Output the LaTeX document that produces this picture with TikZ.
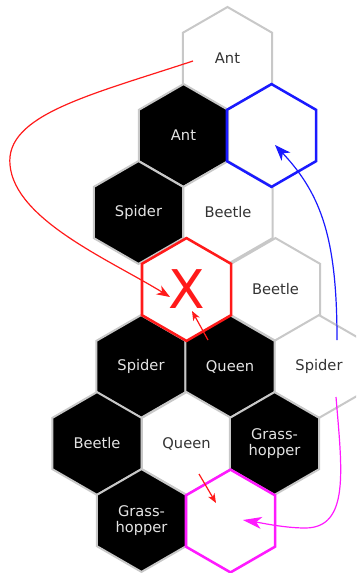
\documentclass[tikz,border=0pt]{standalone}
\usepackage{fontspec}
\setmainfont{DejaVu Sans}
\usetikzlibrary{shapes.geometric,arrows.meta}
\definecolor{hexgrey}{HTML}{C8C8C8}
\definecolor{darktext}{HTML}{333333}
\definecolor{lighttext}{HTML}{E4E4E4}
\definecolor{moveblue}{HTML}{1A1AFF}
\definecolor{movered}{HTML}{FF1A1A}
\definecolor{movemag}{HTML}{FF1AFF}
\begin{document}
\begin{tikzpicture}[x=0.75pt,y=-0.75pt,
  hexa/.style={regular polygon,regular polygon sides=6,regular polygon rotate=30,
    minimum size=77.1pt,inner sep=0pt,draw=hexgrey,line width=1.5pt,fill=white,
    text=darktext,font=\fontsize{11}{12.5}\selectfont,align=center},
  blackhex/.style={hexa,fill=black,text=lighttext},
  spot/.style={hexa,line width=1.9pt},
  movearrow/.style={line width=0.9pt,-{Stealth[length=10pt,width=7.5pt,inset=3pt]}}]
  \useasboundingbox (0,0) rectangle (356,573);
  \clip (0,0) rectangle (356,573);
  % the hive
  \node[hexa] (antTop) at (227.5,58.4) {Ant};
  \node[blackhex] (antBlk) at (183.5,135.5) {Ant};
  \node[blackhex] (spiderBlkA) at (138.5,212.5) {Spider};
  \node[hexa] (beetleA) at (228,212.5) {Beetle};
  \node[hexa] (beetleB) at (275.5,289.5) {Beetle};
  \node[hexa] (spiderWht) at (319,366.5) {Spider};
  \node[blackhex] (spiderBlkB) at (141,366.5) {Spider};
  \node[blackhex] (queenBlk) at (230,366.5) {Queen};
  \node[blackhex] (beetleBlk) at (97,443.5) {Beetle};
  \node[hexa] (queenWht) at (186.5,443.5) {Queen};
  \node[blackhex] (grassBlkA) at (274.5,443.5) {Grass-\\hopper};
  \node[blackhex] (grassBlkB) at (141.5,520.5) {Grass-\\hopper};
  % target spots
  \node[spot,draw=moveblue,fill=none] (blueSpot) at (271.5,135.5) {};
  \node[spot,draw=movered,text=movered,font=\fontsize{40}{40}\selectfont] (redSpot) at (186.5,289.5) {X};
  \node[spot,draw=movemag,fill=none] (magSpot) at (230.5,521) {};
  % moves
  \coordinate (antFrom) at (193,61);
  \coordinate (antTo) at (170,297);
  \coordinate (queenFrom) at (208,340);
  \coordinate (queenTo) at (192,311);
  \coordinate (queenWFrom) at (199,474);
  \coordinate (queenWTo) at (216,503);
  \coordinate (spiderUp) at (337,340);
  \coordinate (spiderDown) at (336,397);
  \coordinate (blueTo) at (275,145);
  \coordinate (magTo) at (243,520);
  \draw[movearrow,movered] (antFrom) .. controls (90,95) and (5,115) .. (10,165)
    .. controls (15,220) and (110,260) .. (antTo);
  \draw[movearrow,movered,-{Stealth[length=7pt,width=5.5pt,inset=2pt]}] (queenFrom) -- (queenTo);
  \draw[movearrow,movered,-{Stealth[length=7pt,width=5.5pt,inset=2pt]}] (queenWFrom) -- (queenWTo);
  \draw[movearrow,moveblue,-{Stealth[length=12pt,width=9pt,inset=3.5pt]}] (spiderUp) .. controls (337,240) and (322,195) .. (blueTo);
  \draw[movearrow,movemag,-{Stealth[length=14pt,width=9pt,inset=4pt]}] (spiderDown) .. controls (342,470) and (350,528) .. (305,528)
    .. controls (285,528) and (262,523) .. (magTo);
\end{tikzpicture}
\end{document}
